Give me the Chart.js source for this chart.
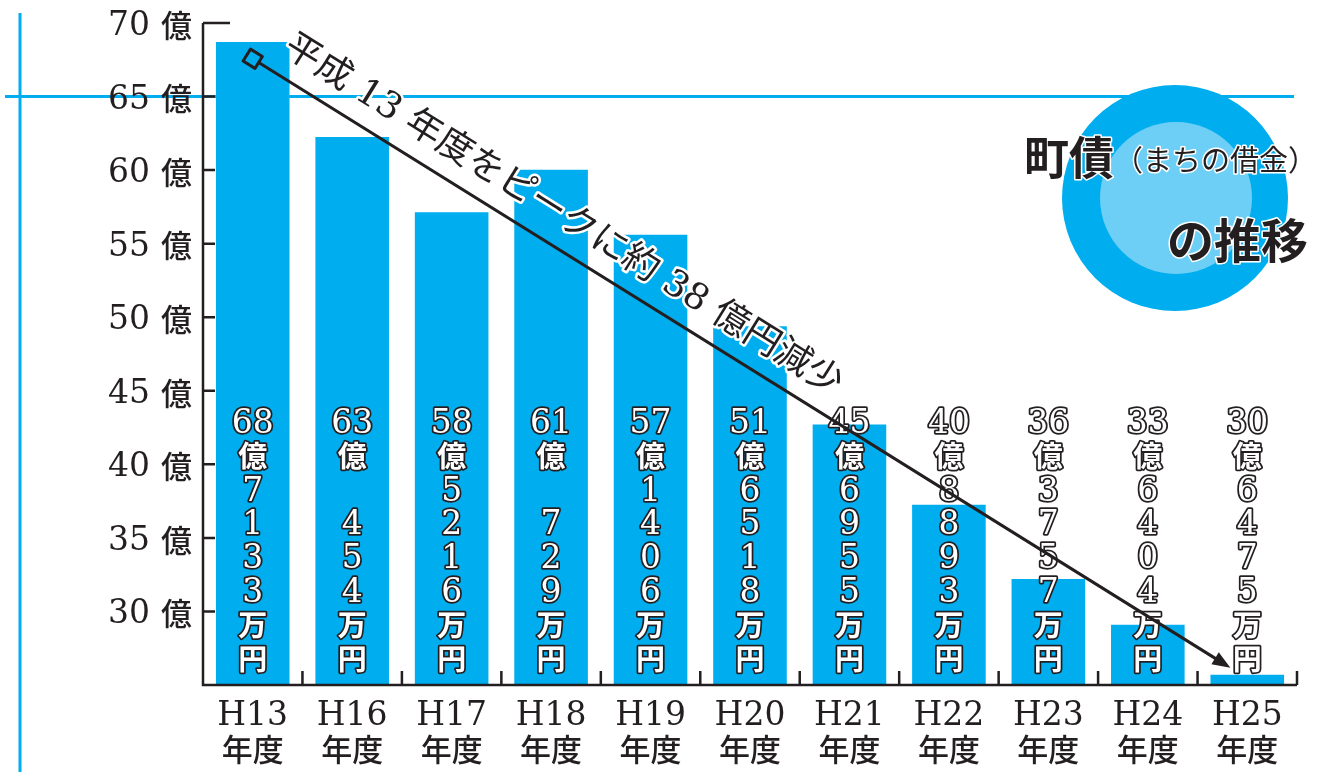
<!DOCTYPE html>
<html>
<head>
<meta charset="utf-8">
<script src="https://cdn.jsdelivr.net/npm/chart.js@4.4.1/dist/chart.umd.min.js"></script>
<style>
html, body { margin: 0; padding: 0; background: #fff; }
canvas { display: block; }
</style>
</head>
<body>
<canvas id="chart" width="1324" height="772"></canvas>
<script>
// 町債の推移 (億円) - bar heights as drawn in the picture
const years = ['H13', 'H16', 'H17', 'H18', 'H19', 'H20', 'H21', 'H22', 'H23', 'H24', 'H25'];
const debt = [68.7, 62.25, 57.13, 60.03, 55.6, 49.38, 42.7, 37.25, 32.2, 29.1, 25.7];
// printed amounts: 億 part and 万 part (blank = leading zero not printed)
const okuText = ['68', '63', '58', '61', '57', '51', '45', '40', '36', '33', '30'];
const manText = ['7133', ' 454', '5216', ' 729', '1406', '6518', '6955', '8893', '3757', '6404', '6475'];
const yMin = 25, yMax = 70, yStep = 5, yFirstLabel = 30;
const highlightValue = 65;
// arrow in data units (category index, 億)
const arrowStart = { x: 0, y: 67.57 };
const arrowEnd = { x: 9.83, y: 26.17 };
const noteText = '平成 13 年度をピークに約 38 億円減少';

const BLUE = '#00aeef';
const LIGHT_BLUE = '#6dcff6';
const INK = '#231f20';
const SERIF = '"DejaVu Serif", "Liberation Serif", serif';
const CJK = '"Noto Sans CJK JP", sans-serif';

const decoPlugin = {
  id: 'deco',
  beforeDatasetsDraw(chart) {
    const ctx = chart.ctx;
    const y = chart.scales.y;
    ctx.save();
    ctx.strokeStyle = BLUE;
    ctx.lineWidth = 3;
    ctx.beginPath();
    ctx.moveTo(20, 13);
    ctx.lineTo(20, 772);
    const hy = y.getPixelForValue(highlightValue);
    ctx.moveTo(5, hy);
    ctx.lineTo(1294, hy);
    ctx.stroke();
    ctx.restore();
  },
  afterDatasetsDraw(chart) {
    const ctx = chart.ctx;
    const xs = chart.scales.x, ys = chart.scales.y;
    const area = chart.chartArea;
    ctx.save();

    // axes
    ctx.strokeStyle = INK;
    ctx.lineWidth = 2.5;
    ctx.beginPath();
    ctx.moveTo(area.left, ys.getPixelForValue(yMax));
    ctx.lineTo(area.left, area.bottom);
    ctx.lineTo(area.right, area.bottom);
    for (let v = yMin + yStep; v <= yMax; v += yStep) {
      const py = ys.getPixelForValue(v);
      ctx.moveTo(area.left, py);
      ctx.lineTo(area.left + (v === yMax ? 27 : 12), py);
    }
    const half = (xs.getPixelForValue(1) - xs.getPixelForValue(0)) / 2;
    for (let i = 0; i <= years.length; i++) {
      const px = i === years.length ? area.right : xs.getPixelForValue(i) - half;
      ctx.moveTo(px, area.bottom);
      ctx.lineTo(px, area.bottom - 14);
    }
    ctx.stroke();

    // y labels
    ctx.fillStyle = INK;
    for (let v = yFirstLabel; v <= yMax; v += yStep) {
      const py = ys.getPixelForValue(v);
      ctx.font = '500 31px ' + CJK;
      ctx.textAlign = 'right';
      ctx.textBaseline = 'middle';
      ctx.fillText('億', area.left - 11, py + 2);
      const kw = ctx.measureText('億').width;
      ctx.font = '33px ' + SERIF;
      ctx.textBaseline = 'alphabetic';
      ctx.fillText(String(v), area.left - 11 - kw - 11, py + 12);
    }

    // x labels
    years.forEach((yr, i) => {
      const px = xs.getPixelForValue(i);
      ctx.textAlign = 'center';
      ctx.font = '33px ' + SERIF;
      ctx.textBaseline = 'alphabetic';
      ctx.fillText(yr, px, area.bottom + 40);
      ctx.font = '500 31px ' + CJK;
      ctx.textBaseline = 'middle';
      ctx.fillText('年度', px, area.bottom + 64);
    });

    // bar amount labels
    ctx.lineJoin = 'round';
    years.forEach((yr, i) => {
      const px = xs.getPixelForValue(i);
      const lines = [okuText[i], '億', ...manText[i].split(''), '万', '円'];
      lines.forEach((t, j) => {
        if (t === ' ') return;
        const cy = area.bottom - 27 - (lines.length - 1 - j) * 33.9;
        const isDigit = /^[0-9]+$/.test(t);
        ctx.textAlign = 'center';
        if (isDigit) {
          ctx.font = '33px ' + SERIF;
          ctx.textBaseline = 'alphabetic';
        } else {
          ctx.font = 'bold 29px ' + CJK;
          ctx.textBaseline = 'middle';
        }
        const ty = isDigit ? cy + 12 : cy + 1;
        ctx.lineWidth = 3.5;
        ctx.strokeStyle = INK;
        ctx.strokeText(t, px, ty);
        ctx.fillStyle = '#fff';
        ctx.fillText(t, px, ty);
      });
    });

    // arrow
    const p0 = { x: xs.getPixelForValue(arrowStart.x), y: ys.getPixelForValue(arrowStart.y) };
    const p1 = { x: xs.getPixelForValue(arrowEnd.x), y: ys.getPixelForValue(arrowEnd.y) };
    const ang = Math.atan2(p1.y - p0.y, p1.x - p0.x);
    const len = Math.hypot(p1.x - p0.x, p1.y - p0.y);
    ctx.translate(p0.x, p0.y);
    ctx.rotate(ang);
    ctx.strokeStyle = INK;
    ctx.fillStyle = INK;
    ctx.lineWidth = 3;
    ctx.strokeRect(-7, -7, 14, 14);
    ctx.beginPath();
    ctx.moveTo(7, 0);
    ctx.lineTo(len - 14, 0);
    ctx.stroke();
    ctx.beginPath();
    ctx.moveTo(len, 0);
    ctx.lineTo(len - 18, -7);
    ctx.lineTo(len - 18, 7);
    ctx.closePath();
    ctx.fill();

    // note along the arrow
    let size = 34;
    ctx.font = size + 'px ' + SERIF.replace('serif', '') + CJK;
    const w = ctx.measureText(noteText).width;
    size = size * 651 / w;
    ctx.font = size.toFixed(1) + 'px ' + SERIF.replace('serif', '') + CJK;
    ctx.textAlign = 'left';
    ctx.textBaseline = 'middle';
    ctx.lineWidth = 5;
    ctx.strokeStyle = '#fff';
    ctx.strokeText(noteText, 21, -30);
    ctx.fillStyle = INK;
    ctx.fillText(noteText, 21, -30);
    ctx.setTransform(1, 0, 0, 1, 0, 0);

    // title badge
    ctx.fillStyle = BLUE;
    ctx.beginPath();
    ctx.arc(1175, 198, 113, 0, Math.PI * 2);
    ctx.fill();
    ctx.fillStyle = LIGHT_BLUE;
    ctx.beginPath();
    ctx.arc(1176, 198, 76, 0, Math.PI * 2);
    ctx.fill();

    ctx.textAlign = 'left';
    ctx.textBaseline = 'alphabetic';
    ctx.lineWidth = 3;
    ctx.strokeStyle = '#fff';
    ctx.fillStyle = INK;
    ctx.font = 'bold 45px ' + CJK;
    ctx.strokeText('町債', 1024, 175);
    ctx.fillText('町債', 1024, 175);
    const tw = ctx.measureText('町債').width;
    ctx.font = '29px ' + CJK;
    ctx.strokeText('（まちの借金）', 1024 + tw, 171);
    ctx.fillText('（まちの借金）', 1024 + tw, 171);
    ctx.font = 'bold 47px ' + CJK;
    ctx.textAlign = 'right';
    ctx.strokeText('の推移', 1308, 258);
    ctx.fillText('の推移', 1308, 258);

    ctx.restore();
  }
};

new Chart(document.getElementById('chart'), {
  type: 'bar',
  data: {
    labels: years,
    datasets: [{
      data: debt,
      backgroundColor: BLUE,
      borderWidth: 0,
      barPercentage: 0.74,
      categoryPercentage: 1.0
    }]
  },
  options: {
    responsive: false,
    devicePixelRatio: 1,
    animation: false,
    layout: { padding: { left: 203, top: 23, right: 27, bottom: 87 } },
    plugins: { legend: { display: false }, tooltip: { enabled: false } },
    scales: {
      x: { display: false, offset: true, grid: { offset: true } },
      y: { display: false, min: yMin, max: yMax, ticks: { stepSize: yStep } }
    }
  },
  plugins: [decoPlugin]
});
</script>
</body>
</html>
